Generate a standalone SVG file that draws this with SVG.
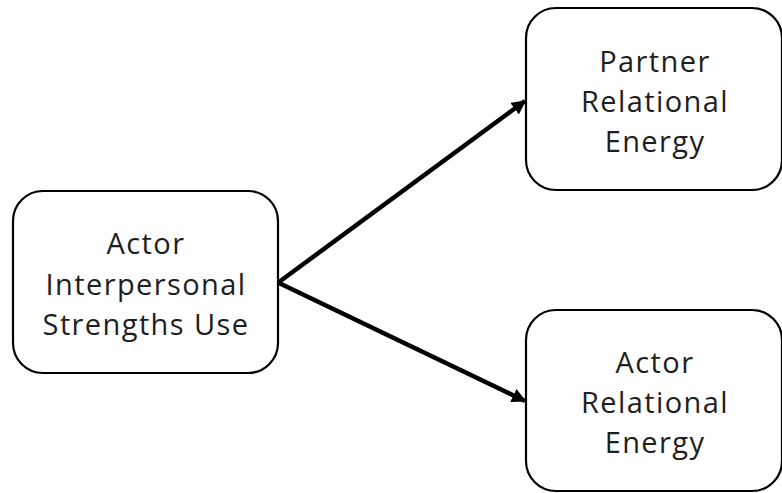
<svg xmlns="http://www.w3.org/2000/svg" width="782" height="493" viewBox="0 0 782 493">
<style>
.box{fill:#fff;stroke:#000;stroke-width:2.2}
.lbl{font-family:"Open Sans",Lato,"Liberation Sans",sans-serif;font-weight:400;font-size:29px;letter-spacing:1.4px;fill:#1e1e1e;text-anchor:middle}
.edge{stroke:#000;stroke-width:4.5;fill:none}
</style>
<defs>
<marker id="arr" viewBox="0 0 10 10" refX="9" refY="5" markerWidth="3.2" markerHeight="3.2" orient="auto" markerUnits="strokeWidth">
<path d="M0,0 L10,5 L0,10 z" fill="#000"/>
</marker>
</defs>
<rect width="782" height="493" fill="#fff"/>
<g id="n1">
<rect class="box" x="13" y="191" width="265" height="182" rx="30"/>
<text class="lbl" x="146" y="254">Actor</text>
<text class="lbl" x="146" y="295">Interpersonal</text>
<text class="lbl" x="146" y="335">Strengths Use</text>
</g>
<g id="n2">
<rect class="box" x="526" y="8" width="256" height="182" rx="30"/>
<text class="lbl" x="655" y="72">Partner</text>
<text class="lbl" x="655" y="112">Relational</text>
<text class="lbl" x="655" y="152">Energy</text>
</g>
<g id="n3">
<rect class="box" x="526" y="310" width="256" height="181" rx="30"/>
<text class="lbl" x="655" y="373">Actor</text>
<text class="lbl" x="655" y="413">Relational</text>
<text class="lbl" x="655" y="453">Energy</text>
</g>
<g id="edges">
<line class="edge" x1="279" y1="282" x2="525" y2="101" marker-end="url(#arr)"/>
<line class="edge" x1="279" y1="283" x2="525" y2="401" marker-end="url(#arr)"/>
</g>
</svg>
